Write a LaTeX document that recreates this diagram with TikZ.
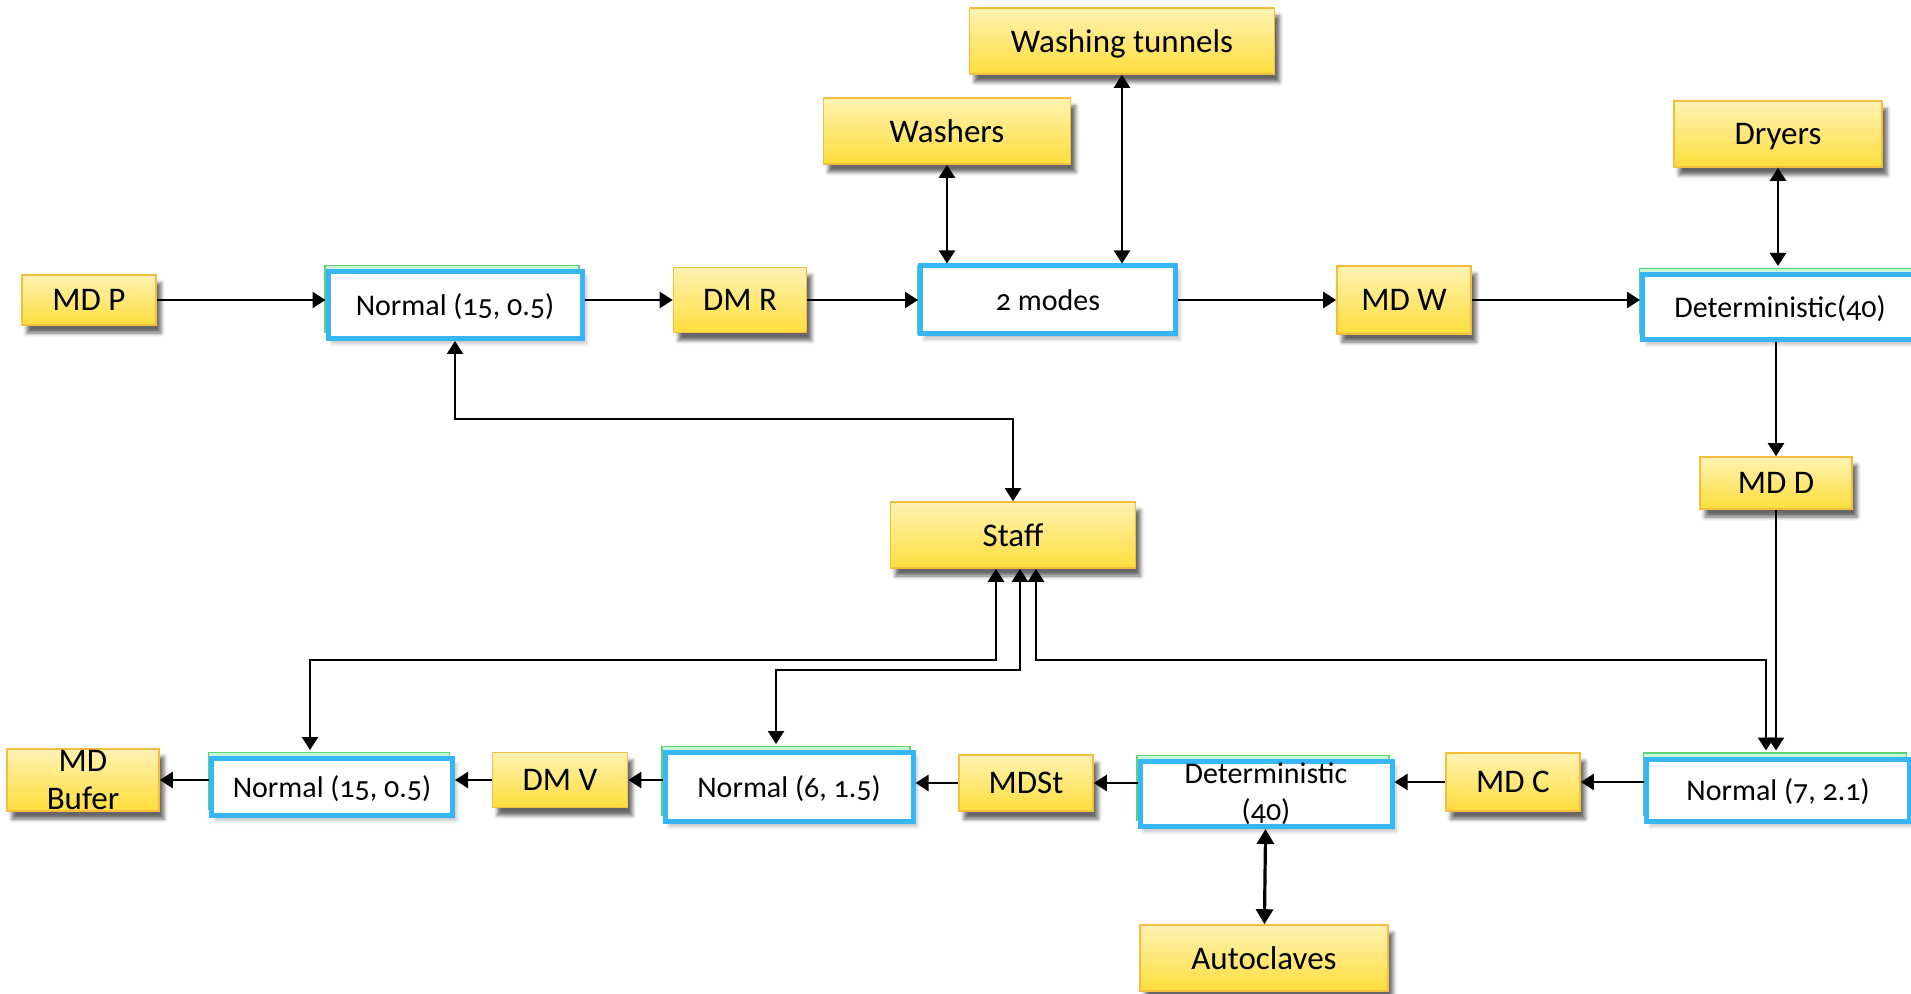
\documentclass[tikz,border=0pt]{standalone}
\usepackage{fontspec}
\setmainfont{Carlito}[Numbers=OldStyle]
\usetikzlibrary{arrows.meta,shadows,shadows.blur}

\definecolor{ytop}{HTML}{FFF2B3}
\definecolor{ybot}{HTML}{FFDE3B}
\definecolor{yedge}{HTML}{F5BD3F}
\definecolor{bedge}{HTML}{36B6F7}
\definecolor{gfill}{HTML}{C9F6D3}
\definecolor{gedge}{HTML}{5CD27C}

\tikzset{
	yelbox/.style={draw=yedge, line width=0.8pt, top color=ytop, bottom color=ybot, inner sep=0pt, align=center,
		font=\fontsize{16.5}{19}\selectfont, text depth=0pt,
		blur shadow={shadow xshift=2.5pt, shadow yshift=-4pt, shadow opacity=60}},
	bluebox/.style={draw=bedge, line width=2.5pt, fill=white, inner sep=0pt, align=center,
		font=\fontsize{15}{18.5}\selectfont, text depth=0pt,
		blur shadow={shadow xshift=2pt, shadow yshift=-2.5pt, shadow opacity=25}},
	strip/.style={general shadow={fill=gfill, draw=gedge, line width=0.8pt, shadow xshift=-1.5pt, shadow yshift=#1}},
	strip/.default=3pt,
	arr/.style={-{Triangle[length=6.5pt,width=8pt]}, line width=1.2pt},
	dbl/.style={{Triangle[length=6.5pt,width=8pt]}-{Triangle[length=6.5pt,width=8pt]}, line width=1.2pt}
}

\begin{document}
\begin{tikzpicture}[x=0.5pt, y=-0.5pt]
			%%%%% START %%%%%
			\path[use as bounding box, clip] (0,0) rectangle (1911,994);
			
			% top row
			\node[yelbox, minimum width=67pt, minimum height=25pt] (mdp) at (89,300) {MD P};
			\node[bluebox, strip, minimum width=127pt, minimum height=33.5pt] (ntop) at (455,305) {Normal (15, 0.5)};
			\node[yelbox, minimum width=66.5pt, minimum height=32.5pt] (dmr) at (740,300) {DM R};
			\node[bluebox, strip=0pt, minimum width=127.5pt, minimum height=34pt] (modes) at (1048,300) {2 modes};
			\node[yelbox, minimum width=67pt, minimum height=34pt] (mdw) at (1404,300) {MD W};
			\node[bluebox, strip, minimum width=137.5pt, minimum height=32.5pt] (dettop) at (1780,307) {Deterministic(40)};
			
			\node[yelbox, minimum width=123.5pt, minimum height=33pt] (washers) at (947,131) {Washers};
			\node[yelbox, minimum width=152.5pt, minimum height=33pt] (tunnels) at (1122,41) {Washing tunnels};
			\node[yelbox, minimum width=104pt, minimum height=33pt] (dryers) at (1778,134) {Dryers};
			
			\node[yelbox, minimum width=76pt, minimum height=26pt] (mdd) at (1776,483) {MD D};
			\node[yelbox, minimum width=122.5pt, minimum height=33pt] (staff) at (1013,535) {Staff};
			
			% bottom row
			\node[yelbox, text depth=, minimum width=76pt, minimum height=31pt] (mdbuf) at (83,780) {MD\\Bufer};
			\node[bluebox, strip, minimum width=120.5pt, minimum height=28.5pt] (nbot1) at (332,787) {Normal (15, 0.5)};
			\node[yelbox, minimum width=67.5pt, minimum height=27.5pt] (dmv) at (560,780) {DM V};
			\node[bluebox, strip, minimum width=124pt, minimum height=34.5pt] (nbot2) at (789,787) {Normal (6, 1.5)};
			\node[yelbox, minimum width=67pt, minimum height=28pt] (mdst) at (1026,783) {MDSt};
			\node[bluebox, strip, text depth=, minimum width=126pt, minimum height=32.5pt] (detbot) at (1266,794) {Deterministic\\(40)};
			\node[yelbox, minimum width=67pt, minimum height=29pt] (mdc) at (1513,782) {MD C};
			\node[bluebox, strip, minimum width=131.5pt, minimum height=31pt] (nbot3) at (1778,790) {Normal (7, 2.1)};
			
			\node[yelbox, minimum width=124pt, minimum height=33pt] (autoclaves) at (1264,958) {Autoclaves};
			
			% flow, top
			\draw[arr] (mdp) -- (mdp -| ntop.west);
			\draw[arr] (dmr -| ntop.east) -- (dmr);
			\draw[arr] (dmr) -- (dmr -| modes.west);
			\draw[arr] (mdw -| modes.east) -- (mdw);
			\draw[arr] (mdw) -- (mdw -| dettop.west);
			
			\draw[dbl] (washers) -- (washers |- modes.north);
			\draw[dbl] (tunnels) -- (tunnels |- modes.north);
			\draw[dbl, shorten >=3pt] (dryers) -- (dryers |- dettop.north);
			
			\draw[arr] (dettop.south -| mdd) -- (mdd);
			\draw[arr, shorten >=3pt] (mdd) -- (mdd |- nbot3.north);
			
			% staff
			\draw[dbl] (ntop.south) -- ++(0,78) -| (staff.north);
			\draw[dbl, shorten >=3pt] ([xshift=-8.5pt]staff.south) -- ++(0,91) -| ([xshift=-11pt]nbot1.north);
			\draw[dbl, shorten >=3pt] ([xshift=3.5pt]staff.south) -- ++(0,101) -| ([xshift=-6.5pt]nbot2.north);
			\draw[dbl, shorten >=3pt] ([xshift=11.5pt]staff.south) -- ++(0,91) -| ([xshift=-6pt]nbot3.north);
			
			% flow, bottom
			\draw[arr] (mdc -| nbot3.west) -- (mdc);
			\draw[arr] (mdc) -- (mdc -| detbot.east);
			\draw[arr] (mdst -| detbot.west) -- (mdst);
			\draw[arr] (mdst) -- (mdst -| nbot2.east);
			\draw[arr] (dmv -| nbot2.west) -- (dmv);
			\draw[arr] (dmv) -- (dmv -| nbot1.east);
			\draw[arr] (mdbuf -| nbot1.west) -- (mdbuf);
			
			\draw[{Triangle[length=7.5pt,width=8.5pt]}-{Triangle[length=7.5pt,width=8.5pt]}, line width=1.6pt] (detbot) -- (autoclaves);
			
			%%%%% END %%%%%
\end{tikzpicture}
\end{document}
